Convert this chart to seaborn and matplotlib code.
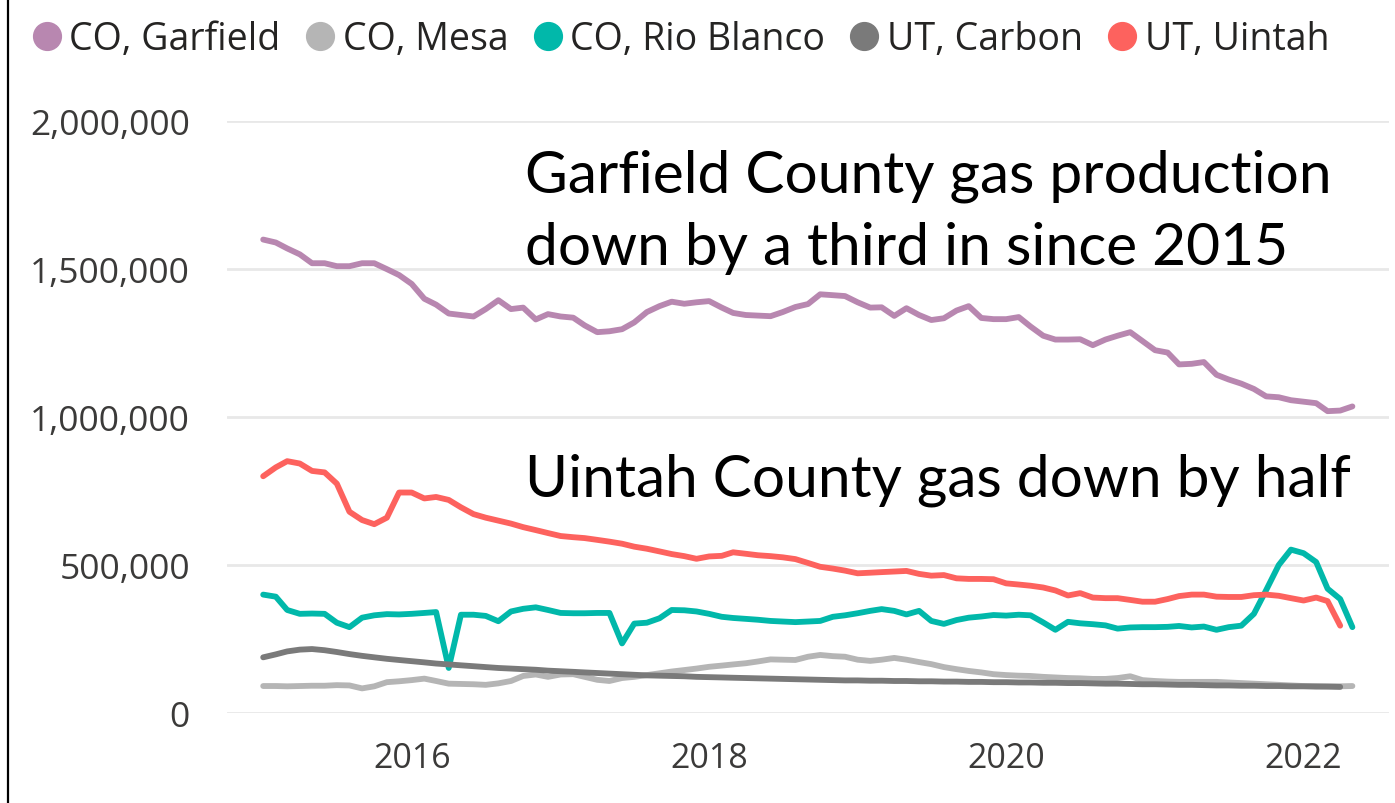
import numpy as np
import pandas as pd
import matplotlib.pyplot as plt
import matplotlib.ticker as mticker
from matplotlib.lines import Line2D
import seaborn as sns

# monthly gas production, Jan 2015 - May 2022 (values in thousands)
months = pd.date_range('2015-01-01', '2022-05-01', freq='MS')

garfield = [1600, 1590, 1570, 1550, 1520, 1520, 1510, 1510, 1520, 1520, 1500, 1480,
            1450, 1400, 1380, 1350, 1345, 1340, 1365, 1395, 1365, 1370, 1330, 1348,
            1340, 1336, 1310, 1287, 1290, 1297, 1320, 1355, 1375, 1390, 1383, 1388,
            1392, 1370, 1352, 1345, 1343, 1341, 1355, 1372, 1382, 1415, 1412, 1409,
            1388, 1370, 1371, 1342, 1368, 1345, 1328, 1334, 1360, 1375, 1335, 1331,
            1331, 1338, 1306, 1275, 1262, 1262, 1263, 1243, 1262, 1275, 1287, 1257,
            1226, 1218, 1178, 1180, 1186, 1143, 1127, 1113, 1095, 1070, 1067, 1057,
            1052, 1047, 1020, 1022, 1036]

mesa = [91, 91, 90, 91, 92, 92, 94, 93, 83, 90, 104, 107,
        111, 116, 108, 99, 98, 97, 95, 100, 108, 125, 130, 122,
        130, 131, 122, 112, 108, 118, 122, 128, 134, 140, 145, 150,
        156, 160, 164, 168, 174, 181, 180, 179, 190, 196, 192, 190,
        180, 176, 180, 186, 180, 172, 165, 155, 148, 142, 137, 131,
        128, 126, 125, 122, 120, 118, 117, 115, 115, 118, 124, 111,
        108, 106, 105, 105, 105, 105, 103, 101, 99, 97, 95, 93,
        91, 91, 90, 90, 91]

rio_blanco = [400, 393, 348, 335, 336, 335, 305, 290, 322, 330, 334, 333,
              335, 338, 341, 152, 332, 332, 328, 310, 343, 352, 357, 348,
              338, 337, 337, 338, 338, 235, 302, 305, 320, 348, 347, 343,
              335, 325, 321, 318, 315, 311, 309, 307, 309, 311, 325, 330,
              337, 345, 351, 345, 333, 345, 311, 301, 314, 322, 326, 331,
              329, 332, 330, 306, 281, 308, 303, 300, 296, 285, 289, 290,
              290, 291, 294, 289, 292, 281, 290, 295, 335, 415, 500, 552,
              540, 510, 420, 385, 290]

carbon = [188, 198, 208, 214, 216, 212, 206, 199, 193, 188, 183, 179,
          175, 171, 167, 164, 161, 158, 155, 152, 150, 148, 146, 143,
          141, 139, 137, 135, 133, 131, 129, 127, 126, 125, 124, 122,
          121, 120, 119, 118, 117, 116, 115, 114, 113, 112, 111, 110,
          110, 109, 109, 108, 108, 107, 107, 106, 106, 105, 105, 104,
          104, 103, 103, 102, 102, 101, 101, 100, 99, 99, 98, 97,
          97, 96, 95, 95, 94, 93, 93, 92, 92, 91, 91, 90,
          90, 89, 89, 88, np.nan]

uintah = [800, 830, 851, 843, 818, 813, 775, 680, 652, 638, 660, 745,
          745, 725, 730, 720, 695, 672, 660, 650, 640, 628, 618, 608,
          598, 594, 591, 585, 579, 572, 562, 555, 546, 537, 530, 521,
          529, 531, 543, 538, 533, 530, 526, 520, 507, 494, 488, 481,
          472, 474, 476, 478, 480, 470, 464, 466, 455, 453, 453, 452,
          438, 434, 430, 424, 414, 397, 405, 390, 388, 388, 382, 376,
          376, 385, 395, 400, 400, 393, 392, 392, 398, 400, 396, 388,
          380, 390, 378, 295, np.nan]

labels = ['CO, Garfield', 'CO, Mesa', 'CO, Rio Blanco', 'UT, Carbon', 'UT, Uintah']
colors = ['#B887B0', '#B5B5B5', '#01B8AA', '#7A7A7A', '#FD625E']

series = [garfield, mesa, rio_blanco, carbon, uintah]
frames = []
for name, vals in zip(labels, series):
    frames.append(pd.DataFrame({'month': months, 'county': name,
                                'gas': np.array(vals, dtype=float) * 1000}))
df = pd.concat(frames, ignore_index=True)

sns.set_theme(style='white')
plt.rcParams['font.family'] = ['Open Sans', 'DejaVu Sans']

fig = plt.figure(figsize=(13.95, 8.04), dpi=100)
ax = fig.add_axes([0.163, 0.112, 0.833, 0.736])

sns.lineplot(data=df, x='month', y='gas', hue='county', hue_order=labels,
             palette=dict(zip(labels, colors)), linewidth=4.2, legend=False, ax=ax)

ax.set_ylim(0, 2000000)
ax.set_xlim(pd.Timestamp('2014-10-05'), pd.Timestamp('2022-07-31'))
ax.set_yticks([0, 500000, 1000000, 1500000, 2000000])
ax.yaxis.set_major_formatter(mticker.FuncFormatter(lambda v, p: f'{int(v):,}'))
ax.set_xticks([pd.Timestamp(f'{y}-01-01') for y in (2016, 2018, 2020, 2022)])
ax.set_xticklabels(['2016', '2018', '2020', '2022'])
ax.grid(axis='y', color='#E8E8E8', linewidth=2)
ax.grid(axis='x', visible=False)
ax.set_axisbelow(True)
for s in ax.spines.values():
    s.set_visible(False)
ax.tick_params(axis='both', length=0, labelsize=24.5, labelcolor='#3B3A39')
ax.tick_params(axis='y', labelsize=25.5, pad=27)
ax.tick_params(axis='x', pad=20)
ax.set_xlabel('')
ax.set_ylabel('')

handles = [Line2D([], [], marker='o', linestyle='none', markersize=20,
                  markerfacecolor=c, markeredgecolor=c) for c in colors]
fig.legend(handles, labels, loc='center left', bbox_to_anchor=(-0.004, 0.95),
           ncol=5, frameon=False, fontsize=27, handlelength=1.0,
           handletextpad=0.1, columnspacing=0.55, labelcolor='#252423')

note_font = ['Lato', 'DejaVu Sans']
fig.text(0.376, 0.761, 'Garfield County gas production', fontsize=42.2,
         family=note_font, color='black', va='baseline')
fig.text(0.376, 0.670, 'down by a third in since 2015', fontsize=42.2,
         family=note_font, color='black', va='baseline')
fig.text(0.376, 0.382, 'Uintah County gas down by half', fontsize=42.2,
         family=note_font, color='black', va='baseline')

fig.add_artist(Line2D([0.006, 0.006], [0, 1], transform=fig.transFigure,
                      color='black', linewidth=1.6))

fig.savefig('out.png', dpi=100)
